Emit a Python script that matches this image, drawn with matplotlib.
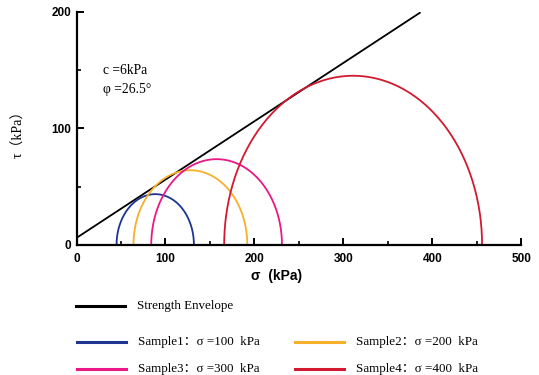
from matplotlib import pyplot as plt
from matplotlib.lines import Line2D
import numpy as np

# Mohr circles: minor / major principal stress (kPa)
sigma3 = [45, 64, 84, 166]
sigma1 = [132, 192, 231, 456]
labels = ["Sample1\uff1a\u03c3 =100  kPa", "Sample2\uff1a\u03c3 =200  kPa",
          "Sample3\uff1a\u03c3 =300  kPa", "Sample4\uff1a\u03c3 =400  kPa"]
colors = ["#1d3591", "#f7b02c", "#ea1886", "#d11a30"]

# strength envelope end points
env_sigma = [0, 386]
env_tau = [6, 199]

serif = ['Liberation Serif', 'Noto Sans CJK SC']

fig = plt.figure(figsize=(5.39, 3.75), dpi=100)
ax = fig.add_axes([0.142, 0.347, 0.825, 0.622])

ax.plot(env_sigma, env_tau, color='black', lw=1.3)

t = np.linspace(0, np.pi, 200)
for s3, s1, c in zip(sigma3, sigma1, colors):
    centre = (s1 + s3) / 2
    r = (s1 - s3) / 2
    ax.plot(centre + r * np.cos(t), r * np.sin(t), color=c, lw=1.3)

ax.set_xlim(0, 500)
ax.set_ylim(0, 200)
ax.set_xticks([0, 100, 200, 300, 400, 500])
ax.set_xticks([50, 150, 250, 350, 450], minor=True)
ax.set_yticks([0, 100, 200])
ax.set_yticks([50, 150], minor=True)
ax.spines['top'].set_visible(False)
ax.spines['right'].set_visible(False)
ax.spines['left'].set_linewidth(1.6)
ax.spines['bottom'].set_linewidth(1.6)
ax.tick_params(which='major', direction='in', length=5, width=1.4, labelsize=8.5)
ax.tick_params(axis='x', which='major', pad=6)
ax.tick_params(axis='y', which='major', pad=4)
ax.tick_params(which='minor', direction='in', length=3, width=1.2)
for lab in ax.get_xticklabels() + ax.get_yticklabels():
    lab.set_fontweight('bold')
    lab.set_family('Liberation Sans')

ax.set_xlabel("\u03c3  (kPa)", fontsize=10, fontweight='bold', family='Liberation Sans')
ax.xaxis.set_label_coords(0.45, -0.105)
ax.set_ylabel("\u03c4\uff08kPa\uff09", fontsize=10, family=serif)
ax.yaxis.set_label_coords(-0.115, 0.49)

ax.text(0.06, 0.748, "c =6kPa", transform=ax.transAxes, fontsize=9.8, family=serif, va='center')
ax.text(0.06, 0.665, "\u03c6 =26.5\u00b0", transform=ax.transAxes, fontsize=9.8, family=serif, va='center')

# legend below the axes, laid out by hand
W, H = 539, 375
def leg(x, y, color, text):
    fig.add_artist(Line2D([x / W, (x + 49) / W], [1 - y / H, 1 - y / H], color=color, lw=2.2))
    fig.text((x + 61) / W, 1 - y / H, text, fontsize=9.4, family=serif, va='center')

leg(76, 306, 'black', "Strength Envelope")
leg(77, 342, colors[0], labels[0])
leg(295, 342, colors[1], labels[1])
leg(77, 369, colors[2], labels[2])
leg(295, 369, colors[3], labels[3])

fig.savefig("out.png", dpi=100)
